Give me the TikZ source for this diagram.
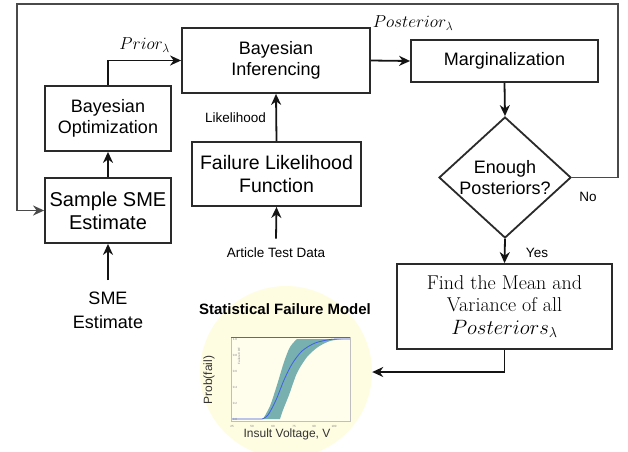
\documentclass[tikz,border=0pt]{standalone}
\usepackage{fontspec}
\setsansfont{Liberation Sans}
\usepackage{tikz}
\usetikzlibrary{shapes.geometric, arrows.meta}
\definecolor{modelbg}{HTML}{FFFDE1}
\definecolor{bandcol}{HTML}{78AFAF}
\definecolor{meancol}{HTML}{3F5FE6}
\definecolor{loopcol}{HTML}{4A4A4A}
\definecolor{framecol}{HTML}{6E6C50}
\definecolor{boxcol}{HTML}{2A2A2A}

\tikzset{
  procbox/.style={draw=boxcol, line width=1.8pt, fill=white, align=center,
    inner sep=2pt, font=\sffamily\fontsize{18}{21}\selectfont},
  arr/.style={-{Stealth[length=11pt,width=10pt,inset=3.5pt]}, line width=1.8pt, draw=black!92},
  smalllbl/.style={font=\sffamily\fontsize{13.5}{15}\selectfont},
  ticklbl/.style={font=\sffamily\fontsize{3}{3}\selectfont, text=black!50, inner sep=0pt},
}

\begin{document}
\begin{tikzpicture}[x=1pt, y=-1pt]
  \useasboundingbox (0,0) rectangle (628,451);

  % boxes
  \node[procbox, minimum width=188pt, minimum height=65pt] (binf) at (276,60.5) {Bayesian\\Inferencing};
  \node[procbox, minimum width=126pt, minimum height=65pt] (bopt) at (108,118.5) {Bayesian\\Optimization};
  \node[procbox, minimum width=126pt, minimum height=65pt, font=\sffamily\fontsize{20}{23}\selectfont] (sse) at (108,210.5) {Sample SME\\Estimate};
  \node[procbox, minimum width=169pt, minimum height=64pt, font=\sffamily\fontsize{19.5}{23}\selectfont] (flf) at (276.5,174) {Failure Likelihood\\Function};
  \node[procbox, minimum width=187pt, minimum height=42pt] (marg) at (504.5,61) {Marginalization};
  \node[procbox, diamond, inner sep=-3pt, aspect=1.1, minimum width=132pt, minimum height=121pt] (dec) at (505,177.5) {Enough\\Posteriors?};
  \node[procbox, minimum width=215pt, minimum height=85pt, font=\fontsize{20}{22.5}\selectfont] (find) at (504.5,306.5) {Find the Mean and\\Variance of all\\$Posteriors_\lambda$};

  \node[font=\sffamily\fontsize{18}{24}\selectfont, align=center] (smein) at (108,310) {SME\\Estimate};
  \node[smalllbl] (artdata) at (276,253) {Article Test Data};

  % statistical failure model
  \node[circle, fill=modelbg, minimum size=172pt, inner sep=0pt] (model) at (286,372) {};
  \node[font=\sffamily\bfseries\fontsize{15}{17}\selectfont] (mtitle) at (285,309) {Statistical Failure Model};
  \fill[modelbg!60!white] (231,337) rectangle (350,421);
  \fill[bandcol] plot[smooth] coordinates {(263,419) (270,406) (277,385) (284,362) (290,347) (297,339)}
    -- (343,339)
    -- plot[smooth] coordinates {(343,339) (330,341) (318,347) (307,357) (297,373) (289,395) (283,410) (280,419)}
    -- cycle;
  \draw[meancol, line width=0.8pt] (232,419) -- (262,419)
    plot[smooth] coordinates {(262,419) (268,415) (276,400) (284,380) (292,364) (302,351) (315,343) (330,339.5) (340,339)}
    -- (350,339);
  \draw[black!25, line width=0.4pt] (231,337) rectangle (350,421);
  \draw[framecol, line width=0.8pt] (231,337) -- (350,337);
  \foreach \v/\yy in {0.0/419, 0.2/403, 0.4/387, 0.6/371, 0.8/355, 1.0/339}
    \node[ticklbl] at (235,\yy) {\v};
  \foreach \t/\xx in {25/232, 50/252, 60/273, 75/294, 90/314, 100/334}
    \node[ticklbl] at (\xx,426) {\t};
  \node[ticklbl, rotate=90] at (239,356) {Failure CDF};
  \node[font=\sffamily\fontsize{12}{14}\selectfont, text=black!80, rotate=90] (ylab) at (209,380) {Prob(fail)};
  \node[font=\sffamily\fontsize{12}{14}\selectfont, text=black!80] (xlab) at (287,434) {Insult Voltage, V};

  % connectors
  \coordinate (loopR) at (618,4);
  \coordinate (loopL) at (17,4);
  \draw[arr] (bopt.north) |- (binf.west) node[pos=0.75, above=4pt, font=\fontsize{17}{17}\selectfont] {$Prior_\lambda$};
  \draw[arr] (binf.east) -- (marg.west);
  \node[font=\fontsize{17}{17}\selectfont] (postlbl) at (413,23) {$Posterior_\lambda$};
  \draw[arr] (marg.south) -- (dec.north);
  \draw[arr, draw=loopcol] (dec.east) -| (loopR) -- (loopL) |- (sse.west);
  \node[smalllbl] (nolbl) at (588,197) {No};
  \draw[arr] (dec.south) -- (find.north);
  \node[smalllbl] (yeslbl) at (537,253) {Yes};
  \draw[arr] (find.south) |- (model.east);
  \draw[arr] (sse.north) -- (bopt.south);
  \draw[arr] (flf.north) -- (binf.south) node[midway, left=6pt, smalllbl] {Likelihood};
  \draw[arr] (artdata.north) ++(0,-6) -- (flf.south);
  \draw[arr] (smein.north) ++(0,-8) -- (sse.south);
\end{tikzpicture}
\end{document}
